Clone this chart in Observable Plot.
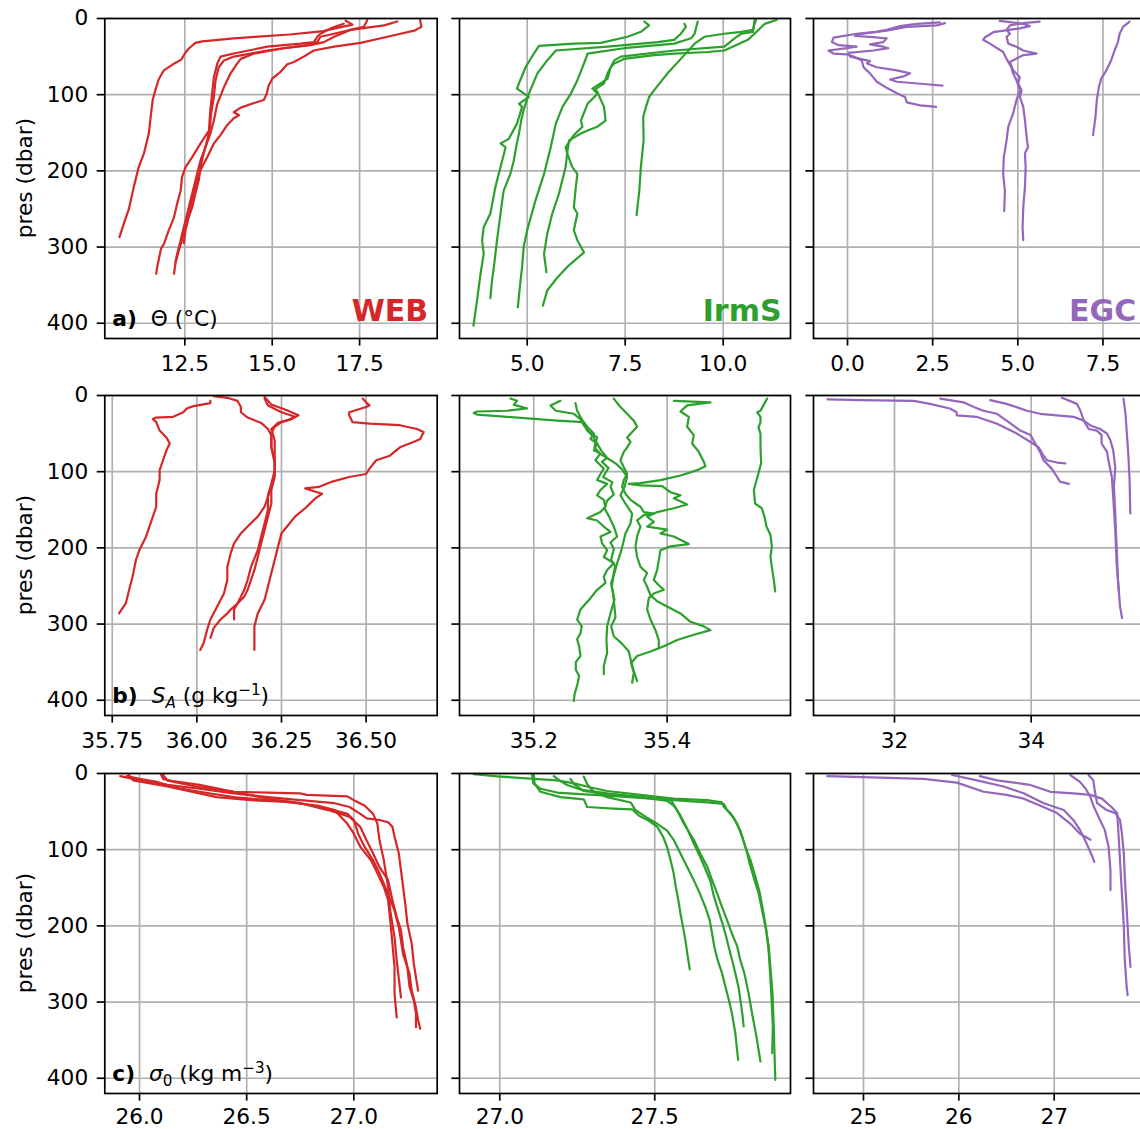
<!DOCTYPE html>
<html><head><meta charset="utf-8">
<script src="https://cdn.jsdelivr.net/npm/d3@7"></script>
<script src="https://cdn.jsdelivr.net/npm/@observablehq/plot@0.6"></script>
<style>
html,body{margin:0;padding:0;background:#fff;overflow:hidden;}
#fig{position:relative;width:1140px;height:1129px;overflow:hidden;font-family:"DejaVu Sans";}
#fig svg{position:absolute;}
</style></head><body><div id="fig"></div>
<script>
// ---------- categories, ticks ----------
const regions = ["WEB", "IrmS", "EGC"];
const regionColors = ["#d62728", "#2ca02c", "#9467bd"];
const yTicks = [0, 100, 200, 300, 400];
const presDomain = [0, 420];

const webThetaTicks = [12.5, 15, 17.5];
const irmThetaTicks = [5, 7.5, 10];
const egcThetaTicks = [0, 2.5, 5, 7.5];
const webSATicks = [35.75, 36, 36.25, 36.5];
const irmSATicks = [35.2, 35.4];
const egcSATicks = [32, 34];
const webSigTicks = [26, 26.5, 27];
const irmSigTicks = [27, 27.5];
const egcSigTicks = [25, 26, 27];

const webThetaLim = [10.21, 19.72];
const irmThetaLim = [3.273, 11.717];
const egcThetaLim = [-0.999, 8.74];
const webSALim = [35.728, 36.71];
const irmSALim = [35.0886, 35.585];
const egcSALim = [30.815, 35.668];
const webSigLim = [25.838, 27.389];
const irmSigLim = [26.87, 27.938];
const egcSigLim = [24.476, 27.954];

// ---------- profiles: [value, pres] ----------
const webTheta = [
 [[17.1,3],[17.3,8],[16.8,13],[16.4,17],[15.5,21],[14.5,24],[13.9,26],[13.0,30],[12.8,32],[12.6,40],[12.5,46],[12.4,54],[12.2,59],[11.9,68],[11.75,80],[11.65,95],[11.58,107],[11.52,130],[11.47,151],[11.33,177],[11.18,195],[11.04,221],[10.9,250],[10.75,270],[10.63,287]],
 [[17.05,7],[16.67,13],[16.38,20],[16.29,24],[16.19,31],[15.81,33],[14.86,37],[13.9,46],[13.52,50],[13.43,59],[13.33,77],[13.28,99],[13.23,120],[13.19,147],[12.95,164],[12.71,182],[12.52,195],[12.42,208],[12.38,226],[12.28,243],[12.19,261],[12.04,278],[11.9,296],[11.82,302],[11.71,326],[11.68,335]],
 [[17.72,2],[17.62,11],[17.24,15],[16.77,20],[16.38,24],[16.29,31],[16.0,35],[14.86,42],[13.9,50],[13.62,55],[13.47,64],[13.38,81],[13.33,103],[13.25,125],[13.22,142],[13.14,160],[13.04,177],[12.95,195],[12.9,212],[12.8,230],[12.71,248],[12.61,261],[12.52,278],[12.47,295]],
 [[18.58,4],[18.2,9],[17.72,12],[17.24,15],[16.77,24],[16.48,31],[16.1,35],[15.33,39],[14.48,46],[14.1,53],[14.0,59],[13.81,72],[13.62,90],[13.43,112],[13.33,134],[13.23,151],[13.09,169],[12.95,186],[12.85,204],[12.76,221],[12.66,239],[12.57,256],[12.47,274],[12.38,291],[12.28,309],[12.23,320]],
 [[19.23,2],[19.27,11],[19.06,16],[18.67,20],[18.2,25],[17.53,32],[16.77,37],[16.19,42],[15.9,50],[15.62,57],[15.43,60],[15.24,70],[15.0,79],[14.9,88],[14.84,99],[14.76,107],[14.48,111],[14.1,117],[13.9,123],[14.05,127],[13.9,131],[13.71,140],[13.52,153],[13.33,164],[13.14,182],[12.95,199],[12.8,221],[12.66,248],[12.52,274],[12.42,291],[12.33,304],[12.23,322],[12.19,335]]
];
const irmTheta = [
 [[7.99,4],[8.11,9],[7.9,17.5],[7.56,24],[6.88,32],[6.19,33],[5.3,36],[5.17,46],[4.96,64],[4.79,85],[4.74,92],[5.04,103],[4.79,112],[4.87,116],[4.74,138],[4.53,158],[4.32,164],[4.45,169],[4.32,195],[4.19,221],[4.06,256],[3.89,274],[3.85,291],[3.89,309],[3.81,335],[3.72,370],[3.63,403]],
 [[9.01,7],[9.05,11],[8.92,20],[8.75,28],[8.33,31],[7.05,37],[5.73,42],[5.51,55],[5.26,72],[5.04,99],[4.91,120],[4.85,133],[4.79,151],[4.72,168],[4.66,186],[4.57,204],[4.4,226],[4.36,240],[4.32,256],[4.23,291],[4.15,326],[4.1,345],[4.06,367]],
 [[9.35,4],[9.27,20],[9.18,26],[8.75,33],[7.47,39],[6.54,46],[6.45,59],[6.28,81],[6.11,99],[5.9,116],[5.73,138],[5.6,169],[5.43,204],[5.21,239],[5.0,278],[4.91,300],[4.87,326],[4.83,344],[4.76,379]],
 [[10.8,2],[10.76,17.5],[10.46,20],[10.29,26],[10.03,37],[8.75,42],[7.39,50],[7.22,55],[7.05,72],[6.96,85],[6.71,94],[6.79,99],[6.54,112],[6.37,134],[6.41,142],[6.19,153],[5.98,169],[6.02,177],[5.98,195],[5.81,230],[5.64,256],[5.51,283],[5.43,309],[5.49,333]],
 [[11.36,2],[11.06,7],[10.8,20],[10.63,28],[10.03,42],[9.6,44],[8.75,46],[8.24,48],[7.47,53],[7.22,59],[7.13,64],[7.05,79],[6.88,85],[6.66,92],[6.79,96],[6.88,107],[6.96,116],[7.0,134],[6.79,142],[6.54,147],[6.37,151],[6.07,160],[6.02,177],[6.15,195],[6.28,204],[6.24,221],[6.19,248],[6.28,256],[6.19,278],[6.28,291],[6.45,307],[6.02,326],[5.77,340],[5.51,357],[5.4,377]],
 [[10.84,2],[10.8,7],[10.76,15],[10.46,17.5],[10.03,20],[9.52,24],[9.27,33],[8.92,53],[8.58,72],[8.24,94],[8.11,103],[8.03,116],[7.96,129],[7.97,160],[7.9,195],[7.86,226],[7.79,258]]
];
const egcTheta = [
 [[2.71,5],[2.03,7],[1.54,10],[1.15,15],[0.76,18],[0.27,20],[-0.41,25],[-0.46,31],[-0.26,35],[0.27,37],[-0.02,39],[-0.56,42],[-0.41,46],[-0.02,47],[0.18,50],[0.42,55],[0.47,64],[0.66,72],[0.86,83],[1.15,91],[1.45,98],[1.69,103],[1.74,110],[2.13,114],[2.6,116]],
 [[2.86,6],[2.62,9],[1.74,11],[1.15,16],[0.27,21],[0.22,23],[0.66,24],[1.15,26],[1.05,31],[0.66,34],[1.05,37],[1.2,39],[0.76,42],[0.03,45],[0.08,50],[0.47,54],[0.66,56],[0.57,59],[0.86,64],[1.45,68],[1.84,72],[1.64,76],[1.25,80],[1.45,83],[2.23,86],[2.79,88]],
 [[4.47,3],[5.16,7],[5.35,10],[5.06,13],[4.28,18],[4.03,25],[3.98,28],[4.18,33],[4.57,44],[4.67,53],[4.81,64],[4.86,72],[4.96,81],[5.06,94],[4.96,107],[4.86,125],[4.72,142],[4.67,160],[4.59,182],[4.57,204],[4.62,226],[4.6,253]],
 [[5.64,4],[5.16,6],[4.77,9],[4.67,15],[4.77,20],[4.67,24],[4.72,33],[4.96,37],[5.16,42],[5.55,46],[5.16,48],[4.77,57],[4.86,68],[5.06,77],[5.01,85],[5.11,94],[5.06,103],[5.16,116],[5.21,134],[5.27,160],[5.3,169],[5.21,177],[5.23,195],[5.21,221],[5.16,248],[5.14,274],[5.16,291]],
 [[8.28,4],[8.09,11],[7.99,20],[7.94,31],[7.84,42],[7.74,55],[7.6,68],[7.45,79],[7.38,90],[7.32,107],[7.28,129],[7.21,153]]
];

const webSA = [
 [[36.04,7],[36.04,10],[35.99,14],[35.97,17],[35.96,22],[35.93,28],[35.88,29],[35.87,31],[35.88,35],[35.89,46],[35.91,55],[35.92,63],[35.91,72],[35.9,85],[35.89,98],[35.89,111],[35.88,129],[35.88,146],[35.87,159],[35.86,172],[35.85,185],[35.83,203],[35.82,216],[35.81,238],[35.80,255],[35.79,273],[35.77,286]],
 [[36.05,1],[36.09,3],[36.12,7],[36.13,15],[36.13,22],[36.15,29],[36.19,36],[36.21,44],[36.22,52],[36.22,68],[36.23,85],[36.23,103],[36.22,120],[36.21,133],[36.2,146],[36.18,159],[36.15,172],[36.13,181],[36.11,194],[36.1,207],[36.09,225],[36.09,242],[36.08,260],[36.06,277],[36.04,294],[36.03,308],[36.02,325],[36.01,334]],
 [[36.2,2],[36.21,7],[36.22,12],[36.24,15],[36.27,20],[36.3,26],[36.28,31],[36.25,35],[36.23,41],[36.22,50],[36.22,68],[36.23,89],[36.23,107],[36.22,124],[36.22,142],[36.21,159],[36.2,177],[36.19,194],[36.18,212],[36.17,229],[36.16,242],[36.15,255],[36.14,264],[36.12,273],[36.11,281],[36.11,294]],
 [[36.2,4],[36.21,13],[36.25,22],[36.29,28],[36.27,32],[36.24,36],[36.22,44],[36.23,59],[36.23,76],[36.23,98],[36.22,116],[36.21,131],[36.21,150],[36.2,168],[36.19,185],[36.18,203],[36.16,225],[36.15,242],[36.14,255],[36.13,264],[36.12,273],[36.1,281],[36.09,286],[36.07,294],[36.05,305],[36.04,318]],
 [[36.49,4],[36.5,9],[36.51,13],[36.5,15],[36.45,22],[36.45,26],[36.46,35],[36.51,37],[36.6,39],[36.65,44],[36.67,48],[36.66,57],[36.64,61],[36.6,68],[36.57,79],[36.53,85],[36.51,96],[36.5,103],[36.45,107],[36.4,113],[36.36,120],[36.32,122],[36.37,129],[36.35,135],[36.32,148],[36.29,159],[36.27,170],[36.25,181],[36.24,198],[36.23,216],[36.22,233],[36.21,251],[36.2,268],[36.18,286],[36.17,303],[36.17,321],[36.17,334]]
];
const irmSA = [
 [[35.165,4],[35.175,7],[35.17,12],[35.19,17],[35.16,20],[35.115,21],[35.11,23],[35.115,25],[35.16,28],[35.235,33],[35.275,35],[35.28,41],[35.29,50],[35.285,57],[35.295,63],[35.29,72],[35.3,76],[35.2925,85],[35.305,96],[35.3,103],[35.295,111],[35.31,116],[35.3,124],[35.295,131],[35.305,137],[35.3075,146],[35.3,153],[35.28,161],[35.295,164],[35.305,172],[35.315,179],[35.3,185],[35.3025,194],[35.31,203],[35.305,212],[35.32,220],[35.31,229],[35.305,238],[35.3075,246],[35.295,255],[35.285,266],[35.27,281],[35.265,294],[35.272,303],[35.27,312],[35.265,320],[35.268,329],[35.27,342],[35.263,350],[35.263,360],[35.268,368],[35.266,377],[35.261,393],[35.26,401]],
 [[35.24,7],[35.225,13],[35.233,20],[35.26,24],[35.27,31],[35.275,39],[35.283,48],[35.295,55],[35.291,68],[35.3,77],[35.31,82],[35.302,87],[35.312,95],[35.304,107],[35.318,114],[35.315,120],[35.32,130],[35.31,138],[35.306,148],[35.313,159],[35.32,172],[35.325,185],[35.315,193],[35.32,201],[35.316,216],[35.322,224],[35.32,233],[35.317,251],[35.321,268],[35.315,286],[35.31,303],[35.309,321],[35.31,338],[35.305,355],[35.305,366]],
 [[35.32,4],[35.3225,7],[35.33,15],[35.34,24],[35.35,33],[35.355,41],[35.3475,48],[35.34,55],[35.345,61],[35.34,68],[35.335,74],[35.33,85],[35.335,94],[35.34,103],[35.335,111],[35.3325,120],[35.3375,129],[35.345,137],[35.36,146],[35.365,153],[35.38,155],[35.365,157],[35.355,164],[35.36,172],[35.355,185],[35.3525,198],[35.355,212],[35.36,225],[35.37,233],[35.365,242],[35.37,251],[35.375,262],[35.385,270],[35.4,277],[35.42,286],[35.435,297],[35.455,303],[35.465,308],[35.44,314],[35.415,321],[35.395,329],[35.375,336],[35.355,342],[35.346,351],[35.35,364],[35.3475,377]],
 [[35.41,7],[35.465,9],[35.43,13],[35.42,21],[35.4325,28],[35.43,41],[35.44,52],[35.4375,63],[35.4475,74],[35.455,87],[35.4575,93],[35.445,98],[35.42,105],[35.39,111],[35.36,115],[35.3425,116],[35.36,118],[35.3925,119],[35.405,127],[35.42,131],[35.41,135],[35.43,143],[35.41,148],[35.385,153],[35.37,159],[35.38,166],[35.37,172],[35.4,176],[35.39,181],[35.41,185],[35.4325,195],[35.405,198],[35.39,203],[35.3875,216],[35.385,229],[35.38,242],[35.3875,249],[35.395,255],[35.38,260],[35.3725,266],[35.37,281],[35.375,294],[35.3825,308],[35.3875,321],[35.3875,332]],
 [[35.2625,10],[35.265,20],[35.27,28],[35.276,37],[35.28,46],[35.2875,52],[35.295,63],[35.301,72],[35.31,82],[35.3225,89],[35.3325,97],[35.34,107],[35.336,120],[35.33,131],[35.3375,142],[35.3475,155],[35.345,168],[35.3375,181],[35.334,194],[35.33,207],[35.325,220],[35.321,233],[35.316,246],[35.319,260],[35.321,277],[35.3225,291],[35.316,303],[35.32,316],[35.3325,326],[35.3425,336],[35.346,349],[35.35,362],[35.355,375]],
 [[35.55,4],[35.545,12],[35.54,20],[35.535,22],[35.54,28],[35.54,35],[35.537,42],[35.54,50],[35.54,68],[35.541,89],[35.536,105],[35.53,124],[35.532,142],[35.542,148],[35.546,159],[35.549,172],[35.555,183],[35.557,198],[35.555,212],[35.557,225],[35.56,242],[35.562,257]]
];
const egcSA = [
 [[31.02,5],[31.5,6],[32.28,7],[32.52,11],[32.81,17],[32.91,22],[32.91,26],[33.2,28],[33.5,37],[33.79,50],[33.99,61],[34.11,68],[34.18,79],[34.23,85],[34.38,88],[34.5,89]],
 [[32.67,4],[33.01,9],[33.16,15],[33.3,20],[33.5,24],[33.64,33],[33.84,46],[33.99,52],[34.06,63],[34.13,74],[34.18,85],[34.3,96],[34.38,107],[34.42,113],[34.55,116]],
 [[33.4,6],[33.64,11],[33.94,20],[34.13,24],[34.62,28],[34.77,33],[34.86,39],[35.01,44],[35.11,50],[35.16,59],[35.2,72],[35.23,94],[35.21,120],[35.23,155],[35.25,198],[35.27,242],[35.3,277],[35.33,292]],
 [[34.45,3],[34.67,11],[34.72,20],[34.77,33],[34.84,44],[34.96,46],[35.03,52],[35.03,63],[35.11,74],[35.13,85],[35.18,107],[35.2,133],[35.23,177],[35.25,220],[35.28,255]],
 [[35.35,4],[35.38,24],[35.4,50],[35.42,76],[35.44,111],[35.45,155]]
];

const webSig = [
 [[26.1,1],[26.11,7],[26.16,11],[26.28,18],[26.44,24],[26.6,25],[26.75,26],[26.78,28],[26.97,30],[27.0,35],[27.05,42],[27.09,53],[27.11,66],[27.12,88],[27.14,114],[27.16,149],[27.17,180],[27.19,215],[27.2,245],[27.22,294]],
 [[25.91,3.5],[25.97,7],[26.05,11],[26.13,15],[26.28,20],[26.44,26],[26.6,31],[26.75,35],[26.91,39],[26.98,44],[27.03,53],[27.06,59],[27.12,61],[27.16,64],[27.18,70],[27.19,83],[27.21,105],[27.22,127],[27.23,149],[27.24,171],[27.25,197],[27.27,223],[27.28,250],[27.3,285]],
 [[25.95,2],[25.97,9],[26.05,13],[26.13,17],[26.21,22],[26.36,31],[26.52,35],[26.67,37],[26.83,42],[26.91,48],[26.94,57],[26.97,66],[27.0,79],[27.03,96],[27.08,114],[27.11,131],[27.14,149],[27.16,166],[27.17,193],[27.18,223],[27.19,254],[27.19,289],[27.2,320]],
 [[26.11,2],[26.13,9],[26.28,15],[26.44,24],[26.6,33],[26.75,39],[26.88,48],[26.94,53],[26.98,57],[27.03,70],[27.06,88],[27.09,105],[27.12,123],[27.16,140],[27.18,166],[27.2,188],[27.22,206],[27.23,228],[27.25,254],[27.26,280],[27.28,298],[27.29,315],[27.29,333]],
 [[25.94,3.5],[26.0,7],[26.08,11],[26.16,18],[26.28,24],[26.44,31],[26.6,35],[26.75,39],[26.88,46],[26.97,53],[27.0,61],[27.02,79],[27.05,96],[27.09,114],[27.12,131],[27.16,158],[27.19,180],[27.21,202],[27.23,237],[27.26,263],[27.27,285],[27.29,307],[27.3,324],[27.31,335]]
];
const irmSig = [
 [[26.916,1],[27.002,4],[27.11,7],[27.185,9],[27.24,13],[27.29,18],[27.346,23],[27.454,28],[27.561,33],[27.669,35],[27.717,38],[27.723,44],[27.744,52],[27.766,66],[27.782,83],[27.796,101],[27.806,118],[27.819,136],[27.835,157],[27.846,179],[27.857,201],[27.868,227],[27.873,254],[27.88,289],[27.884,332],[27.887,376],[27.889,402]],
 [[27.104,1],[27.108,13],[27.131,20],[27.185,25],[27.26,27],[27.346,29],[27.454,32],[27.561,35],[27.669,38],[27.723,40],[27.733,48],[27.755,58],[27.776,75],[27.792,96],[27.809,114],[27.825,136],[27.839,157],[27.849,179],[27.86,205],[27.868,236],[27.873,267],[27.877,297],[27.881,332],[27.879,367]],
 [[27.174,3.5],[27.196,10],[27.217,15],[27.26,21],[27.346,26],[27.454,31],[27.551,34],[27.572,48],[27.594,66],[27.626,87],[27.647,105],[27.669,122],[27.685,140],[27.701,157],[27.717,175],[27.733,192],[27.749,210],[27.766,227],[27.776,245],[27.789,262],[27.803,289],[27.814,315],[27.828,345],[27.841,378]],
 [[27.228,7],[27.239,14],[27.271,23],[27.346,27],[27.454,31],[27.54,36],[27.561,42],[27.583,55],[27.604,72],[27.626,92],[27.647,110],[27.663,125],[27.68,142],[27.69,160],[27.703,177],[27.717,195],[27.729,212],[27.74,230],[27.751,247],[27.761,264],[27.771,282],[27.777,299],[27.783,317],[27.787,332]],
 [[27.271,4],[27.282,14],[27.303,24],[27.346,31],[27.422,38],[27.438,48],[27.475,58],[27.508,66],[27.54,75],[27.561,87],[27.583,105],[27.604,122],[27.626,140],[27.645,157],[27.663,175],[27.677,192],[27.685,210],[27.692,227],[27.703,245],[27.717,262],[27.728,280],[27.739,297],[27.749,315],[27.76,341],[27.769,376]],
 [[27.11,2],[27.112,13],[27.131,24],[27.196,31],[27.271,34],[27.282,44],[27.368,46],[27.427,47],[27.448,55],[27.481,62],[27.508,70],[27.527,83],[27.54,97],[27.551,114],[27.561,131],[27.568,149],[27.576,166],[27.583,184],[27.591,201],[27.599,219],[27.605,236],[27.613,257]]
];
const egcSig = [
 [[24.62,3.5],[25.63,7],[25.98,12],[26.26,24],[26.5,28],[26.68,33],[26.85,42],[27.03,52],[27.17,66],[27.27,79],[27.38,87]],
 [[25.93,2],[26.19,9],[26.47,17],[26.68,26],[26.89,39],[27.1,48],[27.2,61],[27.27,74],[27.34,92],[27.4,109],[27.42,116]],
 [[26.22,3.5],[26.4,9],[26.75,15],[26.96,24],[27.2,26],[27.38,28],[27.5,33],[27.6,44],[27.66,52],[27.67,70],[27.69,114],[27.71,157],[27.73,201],[27.74,245],[27.76,280],[27.77,291]],
 [[27.36,2],[27.41,9],[27.43,26],[27.45,39],[27.55,48],[27.64,52],[27.69,61],[27.71,79],[27.73,105],[27.74,136],[27.76,179],[27.78,223],[27.8,254]],
 [[27.17,2],[27.27,11],[27.33,20],[27.38,31],[27.41,42],[27.48,61],[27.53,74],[27.57,96],[27.59,127],[27.59,153]]
];

// ---------- labels ----------
const rowLetters = ["a)", "b)", "c)"];
const yLabel = "pres (dbar)";

// ---------- layout ----------
const colLeft = [104.3, 459, 813.3];
const colWidth = [332.4, 331, 331.7];
const rowTop = [18.3, 395, 773.3];
const frameH = 320;
const FS = 21.7;

const panels = [
  {row:0,col:0,data:webTheta,lim:webThetaLim,ticks:webThetaTicks,fmt:".1f"},
  {row:0,col:1,data:irmTheta,lim:irmThetaLim,ticks:irmThetaTicks,fmt:".1f"},
  {row:0,col:2,data:egcTheta,lim:egcThetaLim,ticks:egcThetaTicks,fmt:".1f"},
  {row:1,col:0,data:webSA,lim:webSALim,ticks:webSATicks,fmt:".2f"},
  {row:1,col:1,data:irmSA,lim:irmSALim,ticks:irmSATicks,fmt:".1f"},
  {row:1,col:2,data:egcSA,lim:egcSALim,ticks:egcSATicks,fmt:"d"},
  {row:2,col:0,data:webSig,lim:webSigLim,ticks:webSigTicks,fmt:".1f"},
  {row:2,col:1,data:irmSig,lim:irmSigLim,ticks:irmSigTicks,fmt:".1f"},
  {row:2,col:2,data:egcSig,lim:egcSigLim,ticks:egcSigTicks,fmt:"d"}
];

// rich-text quantity labels (matplotlib mathtext look-alike)
const quantityParts = [
  [{t:"Θ (°C)"}],
  [{t:"S", it:true}, {t:"A", it:true, sub:true}, {t:" (g kg"}, {t:"−1", sup:true}, {t:")"}],
  [{t:"σ", it:true}, {t:"0", sub:true}, {t:" (kg m"}, {t:"−3", sup:true}, {t:")"}]
];

const fig = document.getElementById("fig");
const gridStyle = {stroke: "#b0b0b0", strokeOpacity: 1, strokeWidth: 1.7};

for (const p of panels) {
  const ml = p.col === 0 ? colLeft[0] : 22, mt = 18, mr = 12, mb = 40;
  const W = colWidth[p.col];
  const rows = p.data.flatMap((prof, i) => prof.map(([v, pr]) => ({v, p: pr, id: i})));
  const xPad = p.row === 2 ? 7.5 : 9.5;
  const svg = Plot.plot({
    width: ml + W + mr, height: mt + frameH + mb,
    marginLeft: ml, marginRight: mr, marginTop: mt, marginBottom: mb,
    style: {fontFamily: "DejaVu Sans", fontSize: FS + "px", color: "black", background: "transparent", overflow: "visible"},
    x: {domain: p.lim},
    y: {domain: presDomain, reverse: true},
    marks: [
      Plot.gridX(p.ticks, gridStyle),
      Plot.gridY(yTicks, gridStyle),
      Plot.line(rows, {x: "v", y: "p", z: "id", stroke: regionColors[p.col], strokeWidth: 2.2}),
      Plot.axisX(p.ticks, {tickSize: 7.6, tickPadding: xPad, tickFormat: d3.format(p.fmt), label: null, strokeWidth: 1.7}),
      Plot.axisY(yTicks, {tickSize: 7.6, tickPadding: 9, tickFormat: p.col === 0 ? d3.format("d") : () => "", label: null, strokeWidth: 1.7}),
      Plot.frame({stroke: "black", strokeWidth: 1.7})
    ]
  });
  svg.style.left = (colLeft[p.col] - ml) + "px";
  svg.style.top = (rowTop[p.row] - mt) + "px";
  fig.appendChild(svg);
  const s = d3.select(svg);

  if (p.row === 0) {
    s.append("text")
      .attr("x", ml + W - 8.5).attr("y", mt + frameH - 16.6)
      .attr("text-anchor", "end").attr("font-weight", "bold")
      .attr("font-size", 30).attr("font-family", "DejaVu Sans")
      .attr("fill", regionColors[p.col]).text(regions[p.col]);
  }
  if (p.col === 0) {
    s.append("text")
      .attr("transform", `translate(31.5,${mt + frameH / 2}) rotate(-90)`)
      .attr("text-anchor", "middle").attr("font-size", FS).attr("font-family", "DejaVu Sans")
      .attr("fill", "black").text(yLabel);
    const t = s.append("text")
      .attr("x", ml + 8).attr("y", mt + frameH - 11.5)
      .attr("text-anchor", "start")
      .attr("font-size", FS).attr("font-family", "DejaVu Sans").attr("fill", "black");
    t.append("tspan").attr("font-weight", "bold").text(rowLetters[p.row]);
    let shift = 0, first = true;
    for (const part of quantityParts[p.row]) {
      const sp = t.append("tspan").text(part.t);
      if (first) { sp.attr("dx", 14); first = false; }
      if (part.it) sp.attr("font-style", "italic");
      let target = 0;
      if (part.sub) { sp.attr("font-size", FS * 0.7); target = 4.5; }
      if (part.sup) { sp.attr("font-size", FS * 0.7); target = -8; }
      if (target !== shift) { sp.attr("dy", target - shift); shift = target; }
    }
  }
}
</script></body></html>
